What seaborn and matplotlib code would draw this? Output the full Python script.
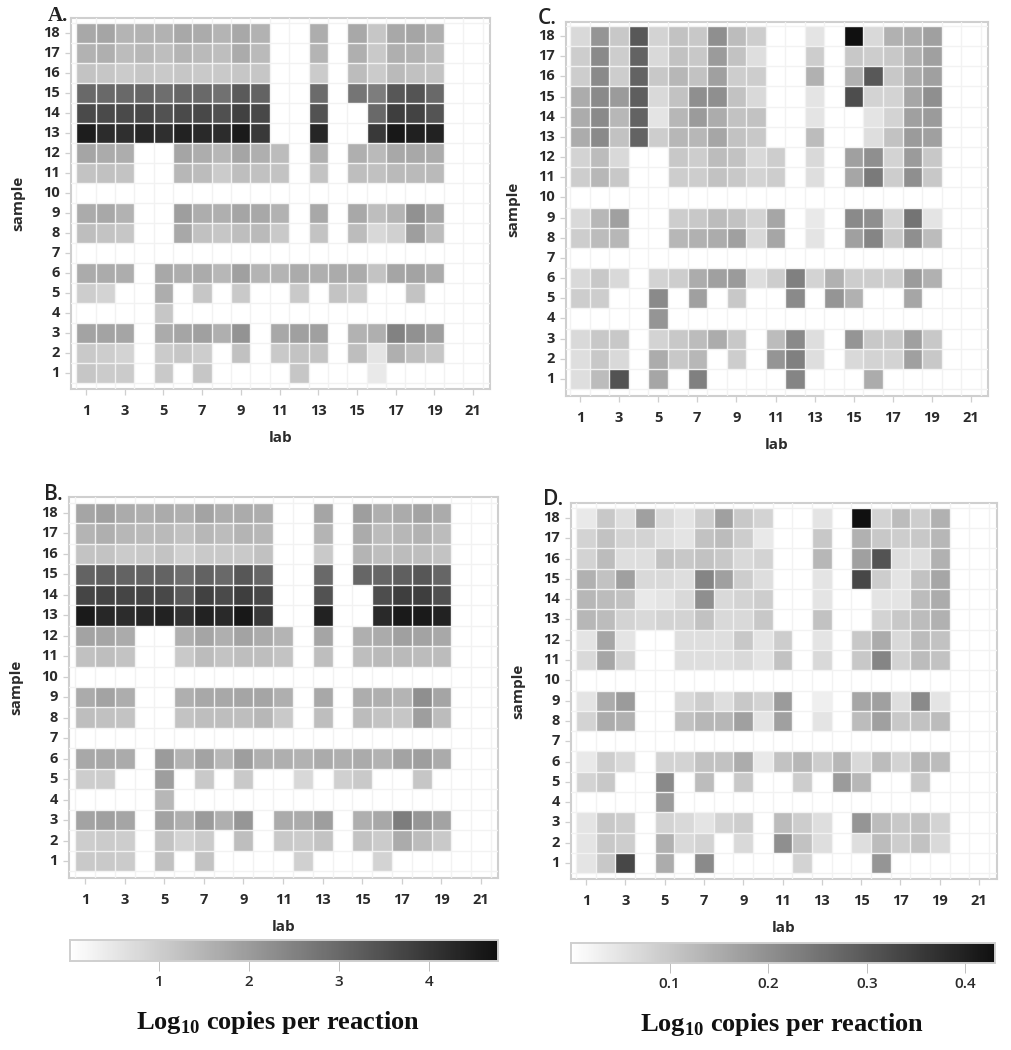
import matplotlib

matplotlib.use("Agg")

import matplotlib.pyplot as plt
import numpy as np
import pandas as pd
import seaborn as sns
from matplotlib.colors import LinearSegmentedColormap

_ = np.nan
labs = list(range(1, 22))
samples = list(range(18, 0, -1))
empty = [_] * 19

# rows go from sample 18 down to sample 1, labs 1..19 (labs 20, 21 have no data)
panel_a = [
    [1.75, 1.8, 1.5, 1.55, 1.55, 1.75, 1.7, 1.5, 1.75, 1.55, _, _, 1.65, _, 1.75, 1.15, 1.75, 1.8, 1.6],
    [1.55, 1.6, 1.35, 1.45, 1.3, 1.5, 1.4, 1.3, 1.7, 1.4, _, _, 1.5, _, 1.6, 1.1, 1.6, 1.55, 1.35],
    [1.2, 1.15, 1.05, 1.15, 1.1, 1.15, 1.1, 1.1, 1.15, 1.15, _, _, 1.05, _, 1.35, 1.05, 1.4, 1.25, 1.2],
    [3.0, 3.0, 3.0, 3.05, 2.9, 3.05, 3.0, 2.85, 3.3, 3.1, _, _, 2.95, _, 2.75, 2.6, 3.35, 3.4, 3.0],
    [3.6, 3.6, 3.6, 3.65, 3.45, 3.6, 3.65, 3.5, 3.8, 3.65, _, _, 3.45, _, _, 3.0, 3.85, 3.75, 3.4],
    [4.5, 4.2, 4.15, 4.3, 4.15, 4.4, 4.25, 4.2, 4.55, 3.95, _, _, 4.35, _, _, 3.95, 4.6, 4.45, 4.4],
    [1.8, 1.7, 1.65, _, _, 1.8, 1.65, 1.45, 1.8, 1.6, 1.35, _, 1.6, _, 1.6, 1.4, 1.75, 1.75, 1.7],
    [1.2, 1.25, 1.2, _, _, 1.45, 1.35, 1.05, 1.3, 1.25, 1.2, _, 1.2, _, 1.3, 1.25, 1.4, 1.4, 1.4],
    empty,
    [1.7, 1.75, 1.55, _, _, 1.95, 1.65, 1.6, 1.8, 1.75, 1.55, _, 1.75, _, 1.75, 1.3, 1.5, 2.2, 1.8],
    [1.3, 1.2, 1.15, _, _, 1.75, 1.25, 1.15, 1.3, 1.4, 1.1, _, 1.2, _, 1.35, 0.8, 0.95, 1.95, 1.35],
    empty,
    [1.7, 1.7, 1.65, _, 1.75, 1.65, 1.7, 1.45, 1.9, 1.5, 1.5, 1.7, 1.6, 1.7, 1.7, 1.2, 1.8, 1.85, 1.7],
    [1.0, 0.9, _, _, 1.65, _, 1.15, _, 1.1, _, _, 1.1, _, 1.2, 1.1, _, _, 1.2, _],
    [_, _, _, _, 1.15, _, _, _, _, _, _, _, _, _, _, _, _, _, _],
    [1.85, 1.85, 1.8, _, 1.7, 1.8, 1.9, 1.6, 2.15, _, 1.75, 1.9, 1.9, _, 1.55, 1.6, 2.5, 2.2, 1.95],
    [1.1, 1.0, 0.9, _, 1.05, 1.15, 1.0, _, 1.25, _, 1.1, 1.2, 1.2, _, 1.3, 0.55, 1.6, 1.3, 1.15],
    [1.15, 1.05, 1.05, _, 1.1, _, 1.15, _, _, _, _, 1.15, _, _, _, 0.45, _, _, _],
]

panel_b = [
    [1.8, 1.9, 1.7, 1.6, 1.7, 1.6, 1.85, 1.65, 1.7, 1.65, _, _, 1.8, _, 1.95, 1.6, 1.7, 1.85, 1.7],
    [1.5, 1.6, 1.45, 1.4, 1.4, 1.25, 1.45, 1.35, 1.5, 1.45, _, _, 1.5, _, 1.7, 1.35, 1.45, 1.55, 1.35],
    [1.2, 1.2, 1.05, 1.1, 1.2, 0.95, 1.1, 1.1, 1.1, 1.25, _, _, 1.1, _, 1.5, 1.3, 1.35, 1.3, 1.2],
    [3.1, 3.2, 3.1, 3.1, 3.1, 2.9, 3.15, 3.0, 3.35, 3.05, _, _, 3.0, _, 3.05, 3.05, 3.2, 3.35, 3.05],
    [3.7, 3.75, 3.7, 3.7, 3.65, 3.3, 3.8, 3.6, 3.85, 3.65, _, _, 3.45, _, _, 3.55, 3.85, 3.85, 3.5],
    [4.55, 4.3, 4.2, 4.3, 4.4, 4.1, 4.4, 4.25, 4.6, 3.95, _, _, 4.4, _, _, 4.25, 4.55, 4.55, 4.4],
    [1.85, 1.8, 1.7, _, _, 1.6, 1.8, 1.6, 1.85, 1.7, 1.5, _, 1.8, _, 1.6, 1.7, 1.9, 1.85, 1.75],
    [1.25, 1.3, 1.2, _, _, 1.1, 1.35, 1.2, 1.3, 1.3, 1.2, _, 1.3, _, 1.3, 1.4, 1.4, 1.35, 1.35],
    empty,
    [1.7, 1.85, 1.65, _, _, 1.6, 1.75, 1.75, 1.8, 1.8, 1.6, _, 1.75, _, 1.65, 1.6, 1.5, 2.25, 1.8],
    [1.3, 1.25, 1.2, _, _, 1.2, 1.3, 1.3, 1.3, 1.45, 1.1, _, 1.3, _, 1.35, 1.2, 1.15, 1.95, 1.35],
    empty,
    [1.75, 1.75, 1.7, _, 2.0, 1.55, 1.85, 1.45, 1.95, 1.6, 1.6, 1.55, 1.7, 1.6, 1.7, 1.55, 1.85, 1.95, 1.7],
    [1.0, 1.0, _, _, 1.95, _, 1.1, _, 1.1, _, _, 0.8, _, 0.95, 1.1, _, _, 1.15, _],
    [_, _, _, _, 1.45, _, _, _, _, _, _, _, _, _, _, _, _, _, _],
    [1.85, 1.9, 1.8, _, 1.85, 1.6, 2.0, 1.6, 2.1, _, 1.7, 1.7, 1.95, _, 1.6, 1.75, 2.6, 2.1, 1.85],
    [1.0, 1.05, 1.0, _, 1.2, 0.9, 1.05, _, 1.3, _, 1.1, 1.05, 1.2, _, 1.2, 1.05, 1.7, 1.35, 1.1],
    [1.1, 1.1, 1.05, _, 1.25, _, 1.2, _, _, _, _, 0.95, _, _, _, 0.9, _, _, _],
]

panel_c = [
    [.07, .19, .10, .30, .08, .11, .10, .20, .12, .09, _, _, .05, _, .43, .07, .14, .15, .17],
    [.09, .21, .09, .28, .07, .11, .10, .18, .11, .06, _, _, .09, _, .10, .09, .10, .14, .17],
    [.09, .21, .09, .28, .10, .13, .11, .17, .09, .09, _, _, .14, _, .14, .30, .10, .15, .17],
    [.15, .21, .18, .29, .07, .11, .20, .20, .11, .07, _, _, .05, _, .32, .08, .08, .16, .20],
    [.15, .21, .13, .28, .05, .13, .18, .15, .11, .11, _, _, .05, _, _, .05, .08, .17, .18],
    [.15, .21, .11, .28, .09, .13, .13, .16, .11, .10, _, _, .12, _, _, .06, .11, .18, .17],
    [.08, .12, .07, _, _, .10, .09, .12, .11, .07, .09, _, .07, _, .17, .20, .08, .18, .10],
    [.09, .13, .10, _, _, .09, .09, .11, .10, .08, .09, _, .06, _, .16, .24, .09, .20, .10],
    empty,
    [.07, .13, .17, _, _, .09, .10, .12, .11, .08, .16, _, .04, _, .21, .20, .08, .25, .05],
    [.09, .12, .13, _, _, .13, .14, .15, .17, .07, .16, _, .05, _, .17, .22, .10, .20, .12],
    empty,
    [.07, .10, .07, _, .08, .09, .15, .17, .18, .06, .09, .23, .08, .14, .09, .09, .09, .18, .14],
    [.09, .09, _, _, .21, _, .17, _, .10, _, _, .21, _, .19, .14, _, _, .16, _],
    [_, _, _, _, .19, _, _, _, _, _, _, _, _, _, _, _, _, _, _],
    [.07, .10, .10, _, .08, .10, .12, .15, .10, _, .12, .21, .06, _, .19, .10, .10, .17, .10],
    [.06, .10, .07, _, .15, .10, .13, _, .09, _, .19, .23, .06, _, .07, .08, .08, .17, .10],
    [.06, .12, .31, _, .16, _, .23, _, _, _, _, .22, _, _, _, .15, _, _, _],
]

panel_d = [
    [.04, .10, .06, .17, .07, .05, .09, .17, .10, .08, _, _, .05, _, .43, .08, .12, .09, .14],
    [.08, .11, .08, .08, .06, .05, .11, .12, .09, .04, _, _, .10, _, .14, .10, .09, .10, .13],
    [.08, .12, .06, .06, .11, .10, .11, .10, .07, .08, _, _, .13, _, .17, .31, .06, .06, .14],
    [.14, .11, .17, .07, .07, .06, .22, .17, .09, .06, _, _, .05, _, .33, .09, .05, .11, .16],
    [.13, .12, .11, .04, .05, .07, .20, .07, .08, .09, _, _, .05, _, _, .05, .05, .12, .15],
    [.13, .12, .08, .07, .08, .08, .11, .07, .07, .10, _, _, .11, _, _, .08, .10, .12, .14],
    [.05, .16, .05, _, _, .06, .06, .06, .10, .05, .09, _, .05, _, .10, .15, .07, .12, .11],
    [.07, .16, .08, _, _, .06, .06, .06, .07, .05, .11, _, .07, _, .10, .22, .08, .12, .11],
    empty,
    [.05, .15, .18, _, _, .07, .09, .06, .10, .08, .18, _, .03, _, .16, .17, .06, .21, .05],
    [.08, .15, .14, _, _, .11, .13, .13, .17, .05, .17, _, .05, _, .12, .17, .10, .11, .12],
    empty,
    [.04, .09, .07, _, .08, .08, .11, .11, .15, .04, .11, .13, .09, .13, .07, .12, .08, .13, .12],
    [.08, .10, _, _, .21, _, .12, _, .10, _, _, .09, _, .18, .13, _, _, .10, _],
    [_, _, _, _, .18, _, _, _, _, _, _, _, _, _, _, _, _, _, _],
    [.05, .10, .09, _, .08, .07, .05, .08, .09, _, .12, .09, .06, _, .19, .12, .10, .11, .08],
    [.05, .10, .09, _, .14, .07, .08, _, .07, _, .20, .11, .06, _, .06, .12, .09, .11, .07],
    [.05, .10, .33, _, .15, _, .21, _, _, _, _, .08, _, _, _, .19, _, _, _],
]

W, H = 1011, 1050
GRID = "#f2f2f2"
FRAME = "#cfcfcf"
TEXT = "#2b2b2b"
SANS = ["Open Sans", "DejaVu Sans"]
SERIF = "Liberation Serif"

sns.set_theme(style="white")
plt.rcParams["font.family"] = SANS
plt.rcParams["mathtext.fontset"] = "custom"
plt.rcParams["mathtext.rm"] = "Liberation Serif:bold"
plt.rcParams["mathtext.bf"] = "Liberation Serif:bold"

grey_map = LinearSegmentedColormap.from_list("greys", ["#ffffff", "#101010"])


def box(x0, y0, x1, y1):
    """Pixel box (from the top left corner) to figure fractions."""
    return [x0 / W, 1 - y1 / H, (x1 - x0) / W, (y1 - y0) / H]


def to_frame(rows):
    padded = [row + [_, _] for row in rows]
    return pd.DataFrame(padded, index=samples, columns=labs)


def draw_panel(fig, rows, tag, tag_pos, tag_family, frame, lab_px, sample_px, vmin, vmax,
               cbar_ax=None, cbar_ticks=None):
    x0, y0, x1, y1 = frame
    ax = fig.add_axes(box(x0, y0, x1, y1))
    sns.heatmap(
        to_frame(rows),
        ax=ax,
        cmap=grey_map,
        vmin=vmin,
        vmax=vmax,
        cbar=cbar_ax is not None,
        cbar_ax=cbar_ax,
        cbar_kws={"orientation": "horizontal", "ticks": cbar_ticks} if cbar_ax is not None else None,
    )

    # heatmap cells sit on 0..n, so the frame margins are worked out from the tick pixels
    per_lab = (lab_px[1] - lab_px[0]) / 20
    per_sample = (sample_px[1] - sample_px[0]) / 17
    ax.set_xlim(0.5 + (x0 - lab_px[0]) / per_lab, 0.5 + (x1 - lab_px[0]) / per_lab)
    ax.set_ylim(0.5 + (y1 - sample_px[0]) / per_sample, 0.5 + (y0 - sample_px[0]) / per_sample)

    ax.set_xticks(np.arange(0.5, 21, 2))
    ax.set_xticklabels(labs[::2], rotation=0, fontsize=10.5, fontweight="bold", color=TEXT)
    ax.set_yticks(np.arange(0.5, 18, 1))
    ax.set_yticklabels(samples, rotation=0, fontsize=10.5, fontweight="bold", color=TEXT)
    ax.set_xticks(np.arange(0, 22), minor=True)
    ax.set_yticks(np.arange(0, 19), minor=True)
    ax.tick_params(axis="both", which="major", length=4, width=0.9, color=FRAME, pad=4, left=True, bottom=True)
    ax.tick_params(axis="x", which="major", pad=7)
    ax.tick_params(axis="both", which="minor", length=0)

    # light lines over the whole plot, they also separate the filled cells
    ax.grid(True, which="minor", color=GRID, linewidth=1.0, zorder=5)
    ax.grid(False, which="major")
    ax.set_axisbelow(False)

    for spine in ax.spines.values():
        spine.set_visible(True)
        spine.set_color(FRAME)
        spine.set_linewidth(1.5)

    ax.set_xlabel("lab", fontsize=11, fontweight="bold", color=TEXT, labelpad=9)
    ax.set_ylabel("sample", fontsize=11, fontweight="bold", color=TEXT, labelpad=13)
    fig.text(tag_pos[0] / W, 1 - tag_pos[1] / H, tag, fontsize=15, family=tag_family,
             fontweight="bold" if tag_family == SERIF else "semibold", color="#222222",
             va="baseline", zorder=6)
    return ax


def style_cbar(cax, labels):
    for spine in cax.spines.values():
        spine.set_visible(True)
        spine.set_color(FRAME)
        spine.set_linewidth(1.2)
    cax.tick_params(axis="x", length=7, width=0.7, color="#bdbdbd", pad=3, labelsize=11, labelcolor=TEXT)
    cax.set_xticklabels(labels, fontweight="semibold")


fig = plt.figure(figsize=(W / 100, H / 100), dpi=100)

cax_b = fig.add_axes(box(70, 940, 498, 961))
cax_d = fig.add_axes(box(571, 943, 995, 963))

draw_panel(fig, panel_a, "A.", (48, 21), SERIF, (71, 18, 490, 389), (86, 473), (33, 373), 0.01, 4.77)
draw_panel(fig, panel_b, "B.", (44, 500), SANS[0], (69, 497, 498, 878), (85, 481), (513, 861), 0.01, 4.77,
           cbar_ax=cax_b, cbar_ticks=[1, 2, 3, 4])
draw_panel(fig, panel_c, "C.", (538, 24), SANS[0], (566, 22, 988, 396), (580, 971), (36, 379), 0.0, 0.43)
draw_panel(fig, panel_d, "D.", (543, 505), SANS[0], (571, 503, 997, 879), (586, 979), (518, 863), 0.0, 0.43,
           cbar_ax=cax_d, cbar_ticks=[0.1, 0.2, 0.3, 0.4])

style_cbar(cax_b, ["1", "2", "3", "4"])
style_cbar(cax_d, ["0.1", "0.2", "0.3", "0.4"])

caption = r"Log$_{\mathrm{10}}$ copies per reaction"
fig.text(278 / W, 1 - 1023 / H, caption, family=SERIF, fontweight="bold", fontsize=19, color="#111111",
         ha="center", va="center")
fig.text(782 / W, 1 - 1025 / H, caption, family=SERIF, fontweight="bold", fontsize=19, color="#111111",
         ha="center", va="center")

fig.savefig("out.png", dpi=100)
plt.close(fig)
